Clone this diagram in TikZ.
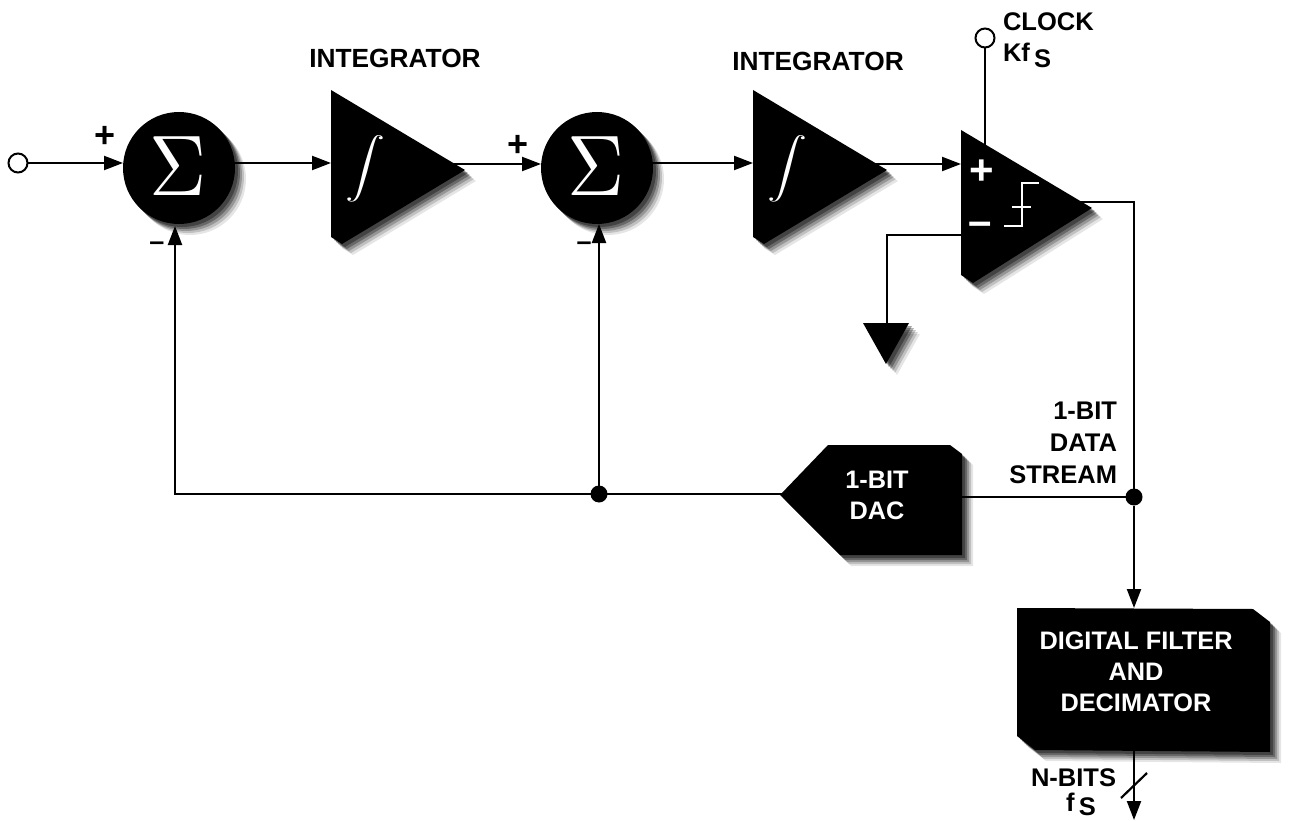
\documentclass[tikz,border=0pt]{standalone}
\usepackage{fontspec}
\setmainfont{Liberation Sans}
\usetikzlibrary{arrows.meta}
\tikzset{
  wire/.style={line width=2.2pt,draw=black},
  arrowwire/.style={wire,-{Triangle[length=19pt,width=14pt]},shorten >=0pt},
  lbl/.style={font=\fontsize{25.5}{32}\selectfont\bfseries,text=black,inner sep=0pt,outer sep=0pt},
  ilbl/.style={lbl,font=\fontsize{26.3}{32}\selectfont\bfseries},
  wlbl/.style={lbl,text=white,font=\fontsize{25.3}{31}\selectfont\bfseries,align=center},
  sumnode/.style={circle,fill=black,minimum size=112pt,inner sep=0pt,outer sep=0pt},
  sumghost/.style={circle,fill=black,minimum size=112pt,inner sep=0pt,draw=none},
  portpt/.style={circle,draw=black,fill=white,line width=2pt,minimum size=19pt,inner sep=0pt,outer sep=0pt},
  dotnode/.style={circle,fill=black,minimum size=17pt,inner sep=0pt,outer sep=0pt},
  sigmaglyph/.style={text=white,inner sep=0pt,xscale=7.9,yscale=8.6},
  intglyph/.style={text=white,inner sep=0pt,xscale=4.0,yscale=3.0},
  sign/.style={lbl,font=\fontsize{36}{36}\selectfont\bfseries},
  bigsign/.style={lbl,text=white,font=\fontsize{42}{42}\selectfont\bfseries},
  dashsign/.style={lbl,font=\fontsize{27}{27}\selectfont\bfseries},
  whitestroke/.style={draw=white,line width=2.5pt}
}
\newcommand{\softshadow}[1]{%
  \foreach \dd/\oo in {11/.10,9/.16,7/.22,5/.30,3/.35}{%
    \fill[black,opacity=\oo,shift={(\dd,\dd)}] #1;}%
  \fill[black] #1;}
\newcommand{\triA}{(331,90) -- (465,170) -- (342,244) -- (331,237) -- cycle}
\newcommand{\triB}{(753,90) -- (887,170) -- (764,244) -- (753,237) -- cycle}
\newcommand{\triC}{(961,130) -- (1092,208) -- (973,283) -- (961,275) -- cycle}
\newcommand{\gndshape}{(863,323) -- (909,323) -- (886,364) -- cycle}
\newcommand{\dacshape}{(780,495) -- (828,445) -- (950,445) -- (962,454) -- (962,555) -- (840,555) -- cycle}
\newcommand{\filtshape}{(1017,608) -- (1253,609) -- (1270,622) -- (1270,752) -- (1035,750) -- (1017,736) -- cycle}
\begin{document}
\begin{tikzpicture}[x=1pt,y=-1pt]
\useasboundingbox (0,0) rectangle (1290,821);
\fill[white] (0,0) rectangle (1290,821);
% shapes with their soft shadows
\foreach \dd/\oo in {11/.10,9/.16,7/.22,5/.30,3/.35}{%
  \node[sumghost,opacity=\oo] at (179+\dd,168+\dd) {};
  \node[sumghost,opacity=\oo] at (597+\dd,168+\dd) {};
}
\softshadow{\triA}
\softshadow{\triB}
\softshadow{\triC}
\softshadow{\gndshape}
\softshadow{\dacshape}
\softshadow{\filtshape}
% named nodes
\node[sumnode] (sum1) at (179,168) {};
\node[sumnode] (sum2) at (597,168) {};
\node[sigmaglyph] (sigma1) at (178,166) {$\Sigma$};
\node[sigmaglyph] (sigma2) at (596,166) {$\Sigma$};
\node[intglyph] (int1) at (365,169) {$\displaystyle\int$};
\node[intglyph] (int2) at (787,169) {$\displaystyle\int$};
\node[portpt] (in) at (18,163) {};
\node[portpt] (clk) at (985,38) {};
\node[dotnode] (j1) at (599,494) {};
\node[dotnode] (j2) at (1134,497) {};
% ports
\coordinate (s1w) at (123,163);
\coordinate (s1e) at (230,163);
\coordinate (s1s) at (175,226);
\coordinate (s2w) at (541,164);
\coordinate (s2e) at (650,163);
\coordinate (s2s) at (599,224);
\coordinate (t1w) at (331,163);
\coordinate (t1e) at (450,164);
\coordinate (t2w) at (753,163);
\coordinate (t2e) at (872,164);
\coordinate (cpw) at (961,164);
\coordinate (cpn) at (985,145);
\coordinate (cpm) at (961,235);
\coordinate (cpo) at (1075,202);
\coordinate (cpc) at (1134,202);
\coordinate (gnd) at (887,325);
\coordinate (gndc) at (887,235);
\coordinate (dacw) at (785,494);
\coordinate (dace) at (958,497);
\coordinate (fbc) at (175,494);
\coordinate (filtn) at (1134,608);
\coordinate (filts) at (1134,748);
\coordinate (outp) at (1134,820);
\coordinate (slashA) at (1121,798);
\coordinate (slashB) at (1147,773);
% connectors
\draw[arrowwire] (in) -- (s1w);
\draw[arrowwire] (s1e) -- (t1w);
\draw[arrowwire] (t1e) -- (s2w);
\draw[arrowwire] (s2e) -- (t2w);
\draw[arrowwire] (t2e) -- (cpw);
\draw[wire] (clk) -- (cpn);
\draw[wire] (cpm) -- (gndc) -- (gnd);
\draw[wire] (cpo) -- (cpc) -- (j2);
\draw[wire] (j2) -- (dace);
\draw[arrowwire] (dacw) -- (fbc) -- (s1s);
\draw[arrowwire] (j1) -- (s2s);
\draw[arrowwire] (j2) -- (filtn);
\draw[arrowwire] (filts) -- (outp);
\draw[wire] (slashA) -- (slashB);
% comparator marks
\coordinate (st1) at (1004,226);
\coordinate (st2) at (1022,226);
\coordinate (st3) at (1022,183);
\coordinate (st4) at (1039,183);
\coordinate (st5) at (1012,207);
\coordinate (st6) at (1031,207);
\draw[whitestroke] (st1) -- (st2) -- (st3) -- (st4);
\draw[whitestroke] (st5) -- (st6);
\node[bigsign] (cplus) at (982,172) {+};
\node[bigsign] (cminus) at (980,229) {–};
% labels
\node[sign] (p1) at (105,137) {+};
\node[dashsign] (m1) at (157,246) {–};
\node[sign] (p2) at (518,146) {+};
\node[dashsign] (m2) at (584,246) {–};
\node[ilbl] (lint1) at (395,58) {INTEGRATOR};
\node[ilbl] (lint2) at (818,61) {INTEGRATOR};
\node[lbl,anchor=west] (lclk) at (1003,22) {CLOCK};
\node[lbl,anchor=west] (lkf) at (1003,55) {Kf\raisebox{-6pt}{\,S}};
\node[lbl,align=right,anchor=east] (lstream) at (1117,443) {1-BIT\\DATA\\STREAM};
\node[wlbl] (ldac) at (877,495) {1-BIT\\DAC};
\node[wlbl] (lfilt) at (1136,672) {DIGITAL FILTER\\AND\\DECIMATOR};
\node[lbl,anchor=east] (lbits) at (1116,778) {N-BITS};
\node[lbl] (lfs) at (1081,804) {f\raisebox{-4pt}{\,S}};
\end{tikzpicture}
\end{document}
